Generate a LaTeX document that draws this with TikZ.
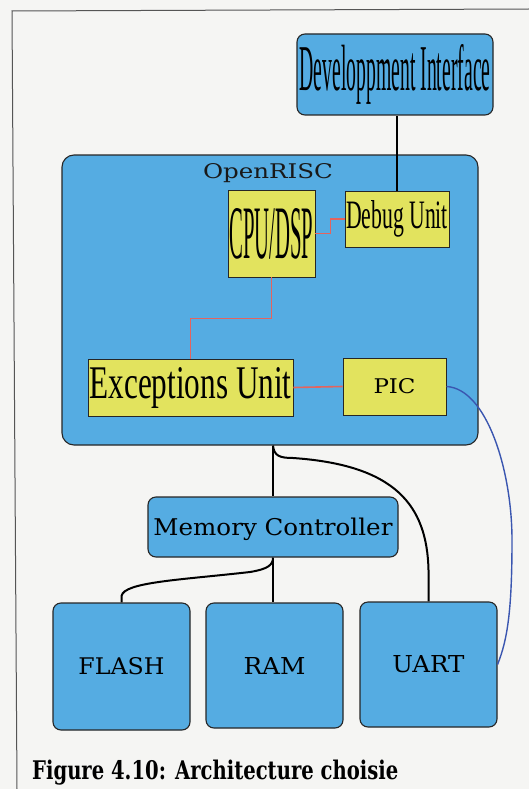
\documentclass[tikz,border=0pt]{standalone}
\usepackage{fontspec}
\setmainfont{DejaVu Serif}
\newfontfamily\condfont{Liberation Serif}
\definecolor{bg}{HTML}{F5F5F3}
\definecolor{boxblue}{HTML}{55ACE2}
\definecolor{boxyellow}{HTML}{E2E35E}
\definecolor{wirered}{HTML}{E4645E}
\definecolor{wireblue}{HTML}{3A56B0}
\definecolor{framegray}{HTML}{555555}
\tikzset{
  bluebox/.style={draw=black!85, line width=1.1pt, fill=boxblue, rounded corners=8pt, inner sep=0pt, align=center},
  yellowbox/.style={draw=black!85, line width=0.9pt, fill=boxyellow, inner sep=0pt, align=center},
  wire/.style={line width=2pt, black},
  redwire/.style={line width=1.6pt, wirered},
  bluewire/.style={line width=1.4pt, wireblue},
  lbl/.style={inner sep=0pt, text=black!90}
}
\begin{document}
\begin{tikzpicture}[x=1pt,y=-1pt]
\fill[bg] (0,0) rectangle (529,789);
\useasboundingbox (0,0) rectangle (529,789);
\draw[framegray, line width=1pt] (529,9) -- (12,11) -- (17,789);

% boxes
\node[bluebox, minimum width=196pt, minimum height=81pt] (devif) at (395,74.5)
  {\resizebox{191pt}{46pt}{\condfont Developpment Interface}};
\node[bluebox, rounded corners=12pt, minimum width=416pt, minimum height=290pt] (risc) at (270,300) {};
\node[lbl, anchor=base] (risclabel) at (268,178) {\resizebox{130pt}{15pt}{OpenRISC}};
\node[yellowbox, minimum width=87pt, minimum height=87pt] (cpu) at (271.5,233.5)
  {\resizebox{84pt}{50pt}{\condfont CPU/DSP}};
\node[yellowbox, minimum width=104pt, minimum height=56pt] (debug) at (397,219)
  {\resizebox{102pt}{28pt}{\condfont Debug Unit}};
\node[yellowbox, minimum width=205pt, minimum height=57pt] (exc) at (190.5,387.5)
  {\resizebox{202pt}{31pt}{\condfont Exceptions Unit}};
\node[yellowbox, minimum width=103pt, minimum height=57pt] (pic) at (394.5,386.5)
  {\resizebox{42pt}{15pt}{PIC}};
\node[bluebox, minimum width=250pt, minimum height=60pt, text depth=0pt] (mem) at (273,527)
  {\resizebox{239pt}{17.5pt}{Memory Controller}};
\node[bluebox, minimum width=137pt, minimum height=127pt] (flash) at (121.5,666.5)
  {\resizebox{86pt}{17pt}{FLASH}};
\node[bluebox, minimum width=137pt, minimum height=125pt] (ram) at (274.5,665.5)
  {\resizebox{62pt}{17pt}{RAM}};
\node[bluebox, minimum width=137pt, minimum height=125pt] (uart) at (428.5,664.5)
  {\resizebox{72pt}{17pt}{UART}};

% connectors
\draw[wire] (debug.north) -- (debug.north |- devif.south);
\draw[redwire] (cpu.east) -- ++(15,0) |- (debug.west);
\draw[redwire] (cpu.south) -- ++(0,41) -| (exc.north);
\draw[redwire] (exc.east) -- (pic.west);
\coordinate (bluemid) at (512,540);
\draw[bluewire] (pic.east) .. controls +(40,2) and +(0,-70) .. (bluemid)
  .. controls +(0,70) and +(10,-25) .. (uart.east);
\coordinate (busA) at (mem.north |- risc.south);
\draw[wire] (busA) -- (mem.north);
\draw[wire] (busA) .. controls (274,456) and (280,458) .. (293,458)
  .. controls (395,465) and (427,505) .. (428.5,570) -- (uart.north);
\draw[wire] (mem.south) -- (mem.south |- ram.north);
\draw[wire] (mem.south) .. controls (273,565) and (268,569) .. (250,572)
  .. controls (180,580) and (124,582) .. (121.5,596) -- (flash.north);

% caption
\node[anchor=base west, inner sep=0pt] (cap) at (32,779)
  {\resizebox{366pt}{19.5pt}{\bfseries Figure 4.10: Architecture choisie}};
\end{tikzpicture}
\end{document}
